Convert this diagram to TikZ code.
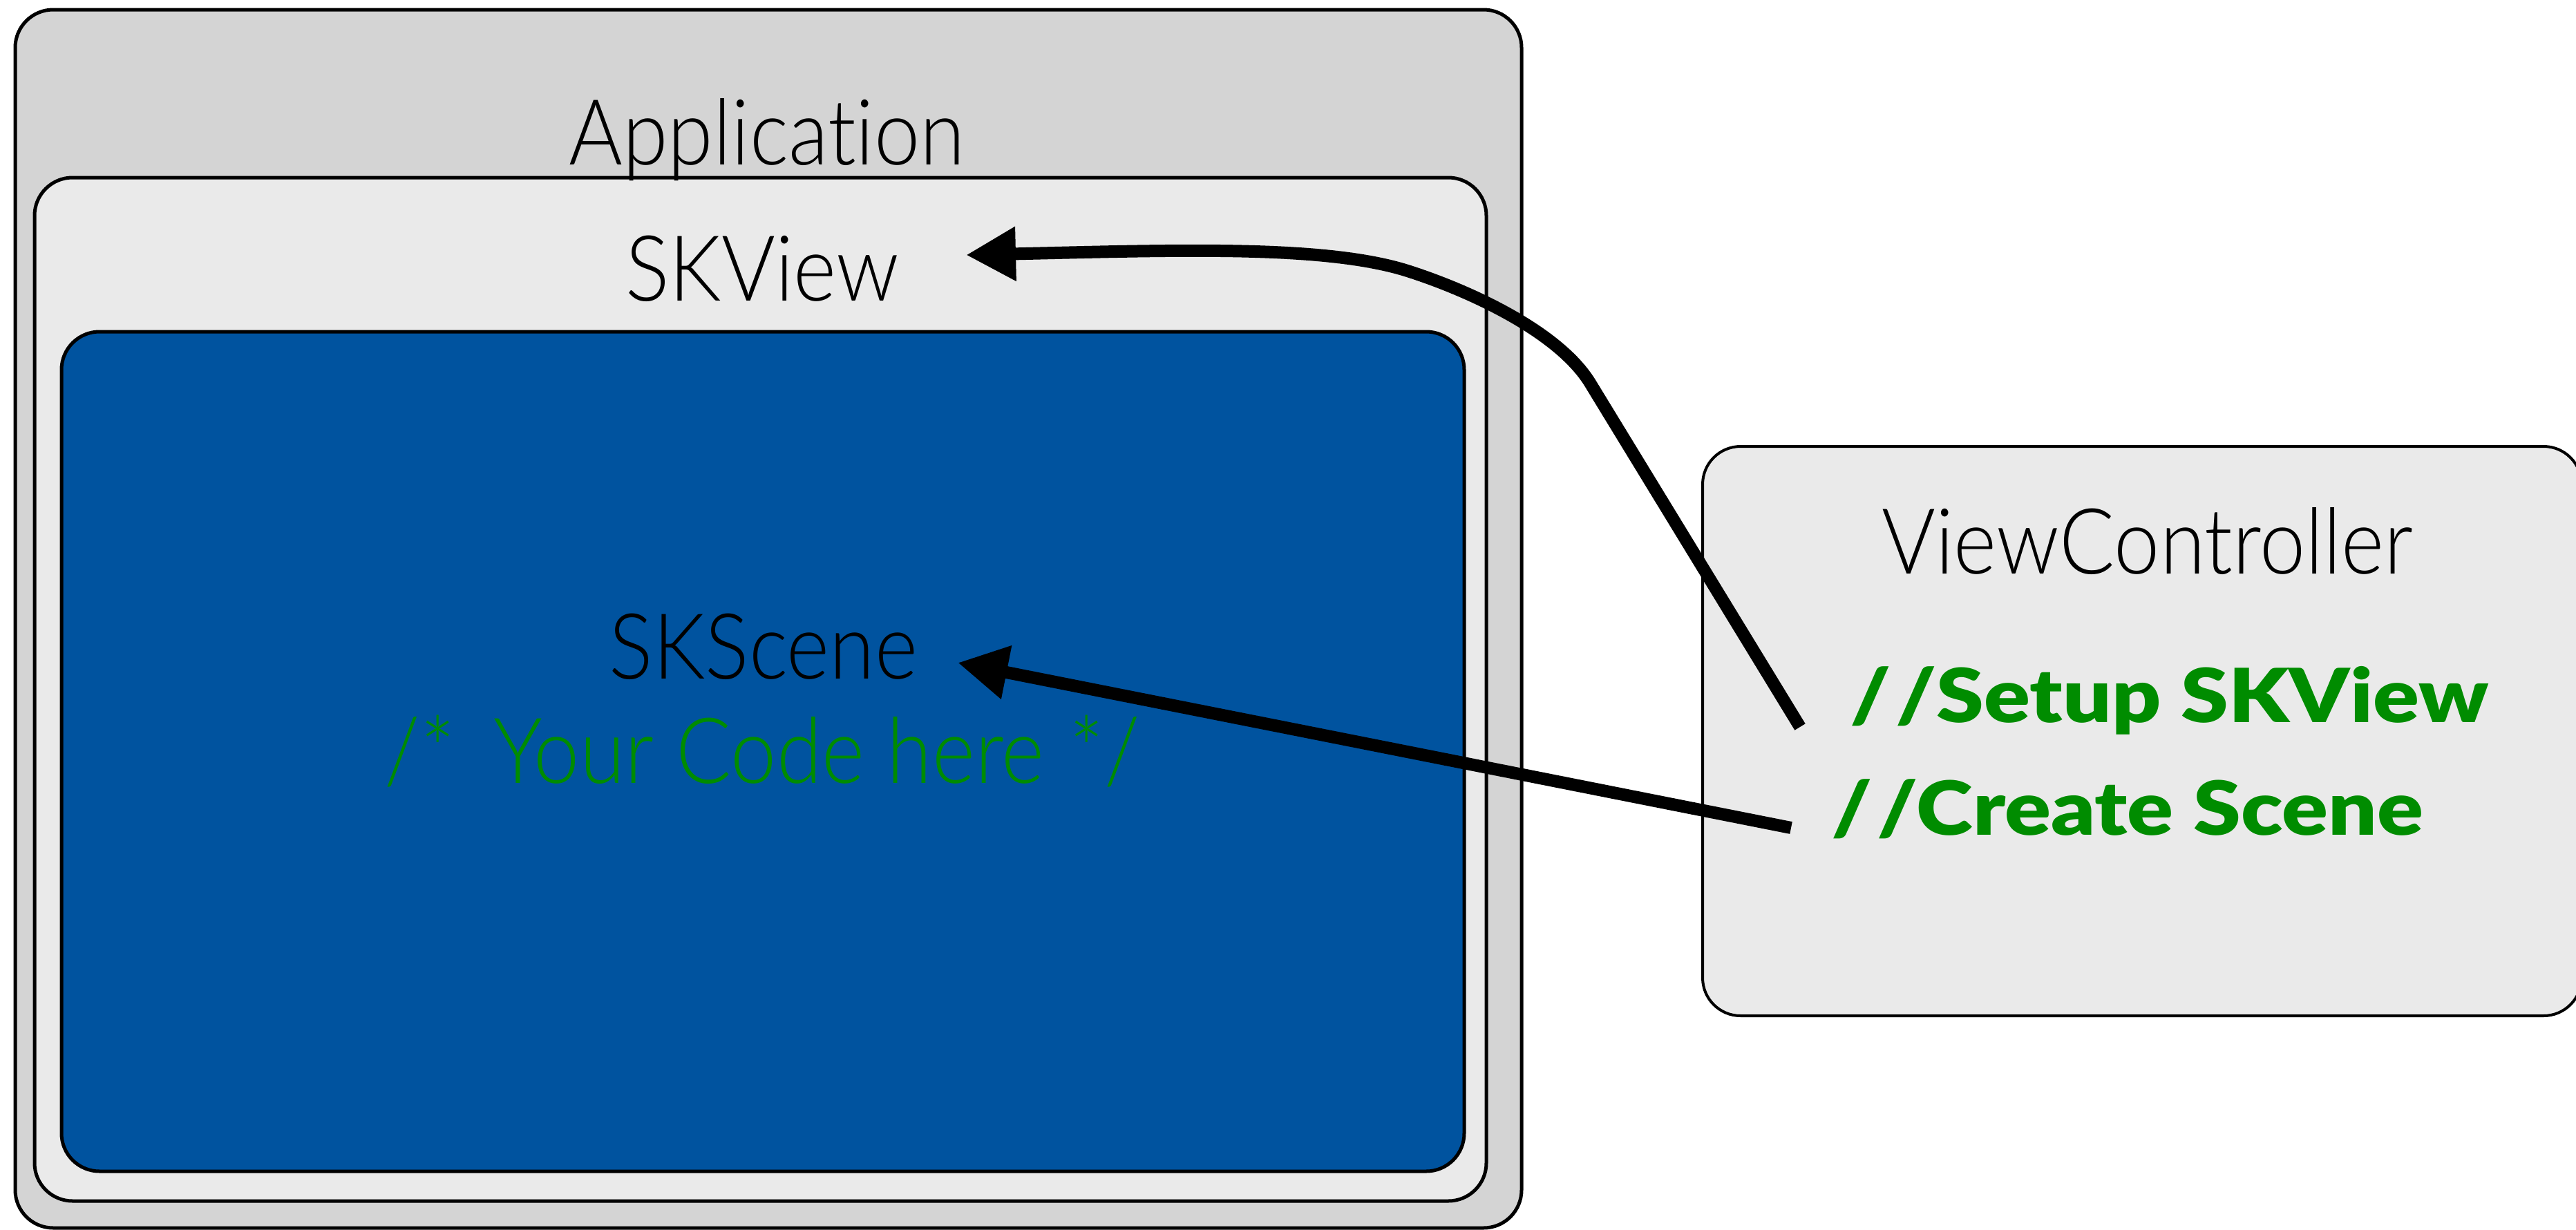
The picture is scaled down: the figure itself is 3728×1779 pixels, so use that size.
\documentclass[tikz,border=0pt]{standalone}
\usepackage{fontspec}
\usetikzlibrary{arrows.meta}
\newfontfamily\thinfont{Lato Light}[FakeStretch=0.9, Ligatures=NoCommon]
\newfontfamily\heavyfont{Lato Black}[FakeStretch=1.15, Ligatures=NoCommon]
\definecolor{appgray}{RGB}{212,212,212}
\definecolor{viewgray}{RGB}{234,234,234}
\definecolor{sceneblue}{RGB}{0,83,159}
\definecolor{codegreen}{RGB}{0,140,0}
\newcommand{\dslash}{/\kern1.5pt/}
\begin{document}
\begin{tikzpicture}[x=0.25pt,y=-0.25pt,
  box/.style={draw=black, rounded corners=13.75pt, line width=1.25pt,
    inner sep=0pt, outer sep=0pt},
  lightlbl/.style={font=\thinfont\fontsize{33}{33}\selectfont, text=black,
    inner sep=0pt, anchor=base},
  greenlbl/.style={font=\heavyfont\fontsize{27}{27}\selectfont, text=codegreen,
    inner sep=0pt, anchor=base west},
  link/.style={line width=4.5pt, line cap=butt,
    -{Triangle[length=18pt,width=18.5pt]}}]
\clip (0,0) rectangle (3728,1779);

% containers
\node[box, fill=appgray, minimum width=545pt, minimum height=440.75pt]
  (app) at (1112,895.5) {};
\node[box, fill=viewgray, minimum width=525.25pt, minimum height=370.25pt]
  (skview) at (1100.5,997.5) {};
\node[box, fill=sceneblue, minimum width=507.5pt, minimum height=303.75pt]
  (skscene) at (1104,1087.5) {};
\node[box, fill=viewgray, line width=1pt, minimum width=318pt, minimum height=206pt]
  (vc) at (3100,1058) {};

% labels
\node[lightlbl] (applbl) at (1110,238) {Application};
\node[lightlbl] (skviewlbl) at (1103,435) {SKView};
\node[lightlbl] (scenelbl) at (1105,982) {SKScene};
\node[lightlbl, text=codegreen] (codelbl) at (1103,1133)
  {/*\hspace{14pt}Your Code here\hspace{9pt}*/};
\node[lightlbl] (vclbl) at (3108,830) {ViewController};
\node[greenlbl] (setuplbl) at (2677,1045) {\dslash Setup SKView};
\node[greenlbl] (createlbl) at (2650,1208) {\dslash Create Scene};

% connector end points
\coordinate (setupfrom) at (2605,1052);
\coordinate (setupbend) at (2301,554);
\coordinate (setupmid) at (2037,392);
\coordinate (skviewto) at (1398,369);
\coordinate (createfrom) at (2592,1198);
\coordinate (sceneto) at (1386,959);

% connectors
\draw[link] (setupfrom) -- (setupbend)
  .. controls (2254,478) and (2122,419) .. (setupmid)
  .. controls (1917,354) and (1700,362) .. (skviewto);
\draw[link] (createfrom) -- (sceneto);
\end{tikzpicture}
\end{document}
